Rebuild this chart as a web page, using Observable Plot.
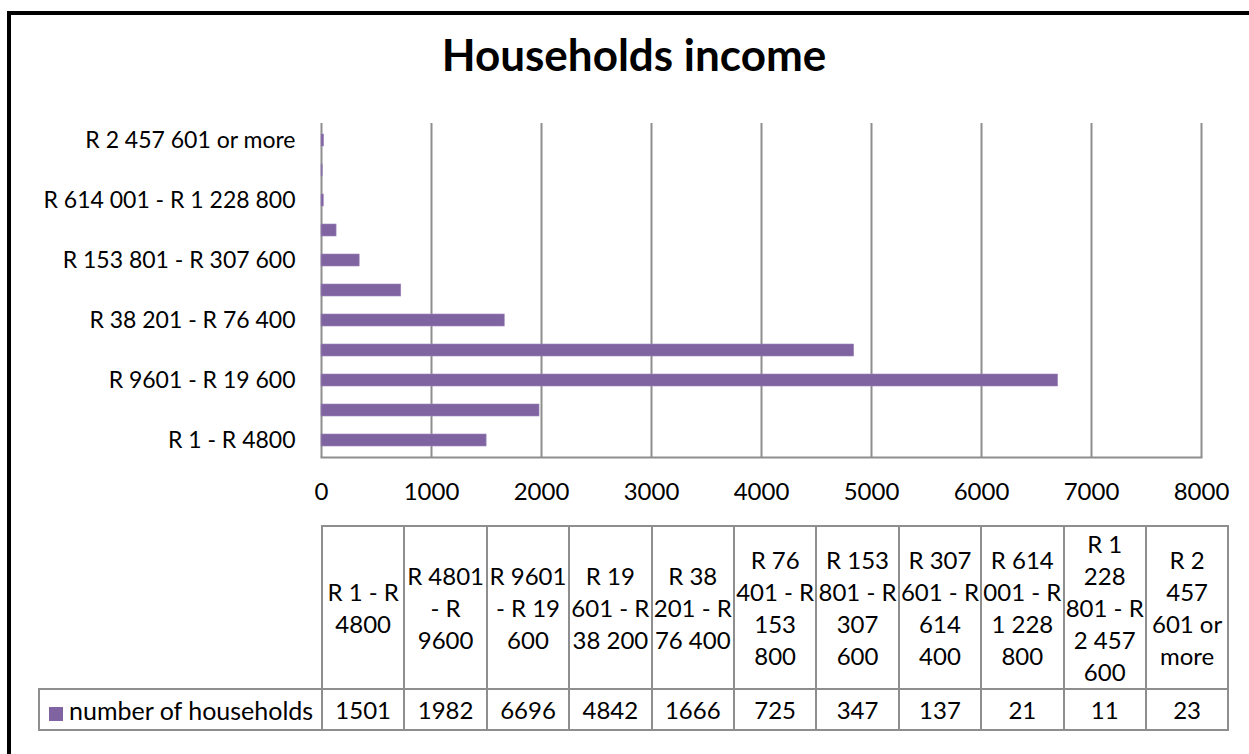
<!DOCTYPE html>
<html>
<head>
<meta charset="utf-8">
<script src="https://cdn.jsdelivr.net/npm/d3@7"></script>
<script src="https://cdn.jsdelivr.net/npm/@observablehq/plot@0.6"></script>
<style>
  html, body { margin: 0; padding: 0; background: #fff; }
  body { width: 1249px; height: 754px; position: relative; overflow: hidden; font-family: Lato, "Open Sans", sans-serif; color: #000; }
  #frame { position: absolute; left: 7px; top: 11px; width: 1400px; height: 900px; border-left: 4px solid #000; border-top: 4px solid #000; }
  #title { position: absolute; left: 0; width: 1268px; top: 28px; text-align: center; font-weight: bold; font-size: 44px; line-height: 1.2; }
  #chart { position: absolute; left: 0; top: 0; }
  #tbl { position: absolute; left: 38px; top: 525px; border-collapse: collapse; table-layout: fixed; font-size: 24px; }
  #tbl td { border: 2px solid #8e8e8e; text-align: center; vertical-align: middle; padding: 0; line-height: 32px; white-space: nowrap; overflow: hidden; }
  #tbl td.blank { border-top: none; border-left: none; }
  #tbl td.legend { text-align: left; padding-left: 9px; font-size: 25px; }
  .swatch { display: inline-block; width: 14px; height: 14px; background: #8064A2; margin-right: 6px; vertical-align: -1px; }
</style>
</head>
<body>
<div id="frame"></div>
<div id="title">Households income</div>
<div id="chart"></div>
<table id="tbl"></table>
<script>
const categories = [
  "R 1 - R 4800",
  "R 4801 - R 9600",
  "R 9601 - R 19 600",
  "R 19 601 - R 38 200",
  "R 38 201 - R 76 400",
  "R 76 401 - R 153 800",
  "R 153 801 - R 307 600",
  "R 307 601 - R 614 400",
  "R 614 001 - R 1 228 800",
  "R 1 228 801 - R 2 457 600",
  "R 2 457 601 or more"
];
const households = [1501, 1982, 6696, 4842, 1666, 725, 347, 137, 21, 11, 23];
const seriesName = "number of households";
const xTicks = [0, 1000, 2000, 3000, 4000, 5000, 6000, 7000, 8000];
const yTickLabels = [
  "R 1 - R 4800",
  "R 9601 - R 19 600",
  "R 38 201 - R 76 400",
  "R 153 801 - R 307 600",
  "R 614 001 - R 1 228 800",
  "R 2 457 601 or more"
];
// wrapped header labels as shown in the data table
const tableHeaders = [
  ["R 1 - R", "4800"],
  ["R 4801", "- R", "9600"],
  ["R 9601", "- R 19", "600"],
  ["R 19", "601 - R", "38 200"],
  ["R 38", "201 - R", "76 400"],
  ["R 76", "401 - R", "153", "800"],
  ["R 153", "801 - R", "307", "600"],
  ["R 307", "601 - R", "614", "400"],
  ["R 614", "001 - R", "1 228", "800"],
  ["R 1", "228", "801 - R", "2 457", "600"],
  ["R 2", "457", "601 or", "more"]
];

const data = categories.map((c, i) => ({category: c, value: households[i]}));
const grid = "#8e8e8e";
const font = "Lato, 'Open Sans', sans-serif";

const chart = Plot.plot({
  width: 1249,
  height: 520,
  marginLeft: 321,
  marginRight: 48,
  marginTop: 123,
  marginBottom: 63,
  style: {fontFamily: font, fontSize: "24px", color: "#000", background: "transparent"},
  x: {domain: [0, 8000], label: null},
  y: {domain: categories.slice().reverse(), paddingInner: 0.6, paddingOuter: 0.3, label: null},
  marks: [
    Plot.gridX(xTicks, {stroke: grid, strokeOpacity: 1, strokeWidth: 2}),
    Plot.barX(data, {x: "value", y: "category", fill: "#8064A2", stroke: "#9a84b8", strokeWidth: 0.6}),
    Plot.frame({anchor: "bottom", stroke: grid, strokeWidth: 2}),
    Plot.axisX({ticks: xTicks, tickSize: 0, tickPadding: 25, tickFormat: d => String(d), fontSize: 24, label: null}),
    Plot.axisY({ticks: yTickLabels, tickSize: 0, tickPadding: 26, fontSize: 23, label: null})
  ]
});
document.getElementById("chart").appendChild(chart);

// data table
const tbl = d3.select("#tbl");
const cg = tbl.append("colgroup");
cg.append("col").style("width", "283px");
categories.forEach(() => cg.append("col").style("width", "82.4px"));
tbl.style("width", (283 + 82.4 * categories.length) + "px");
const r1 = tbl.append("tr").style("height", "163px");
r1.append("td").attr("class", "blank");
tableHeaders.forEach(lines => {
  const td = r1.append("td");
  lines.forEach((l, i) => { if (i) td.append("br"); td.append("span").text(l); });
});
const r2 = tbl.append("tr").style("height", "41px");
const lg = r2.append("td").attr("class", "legend");
lg.append("span").attr("class", "swatch");
lg.append("span").text(seriesName);
households.forEach(v => r2.append("td").text(v));
</script>
</body>
</html>
